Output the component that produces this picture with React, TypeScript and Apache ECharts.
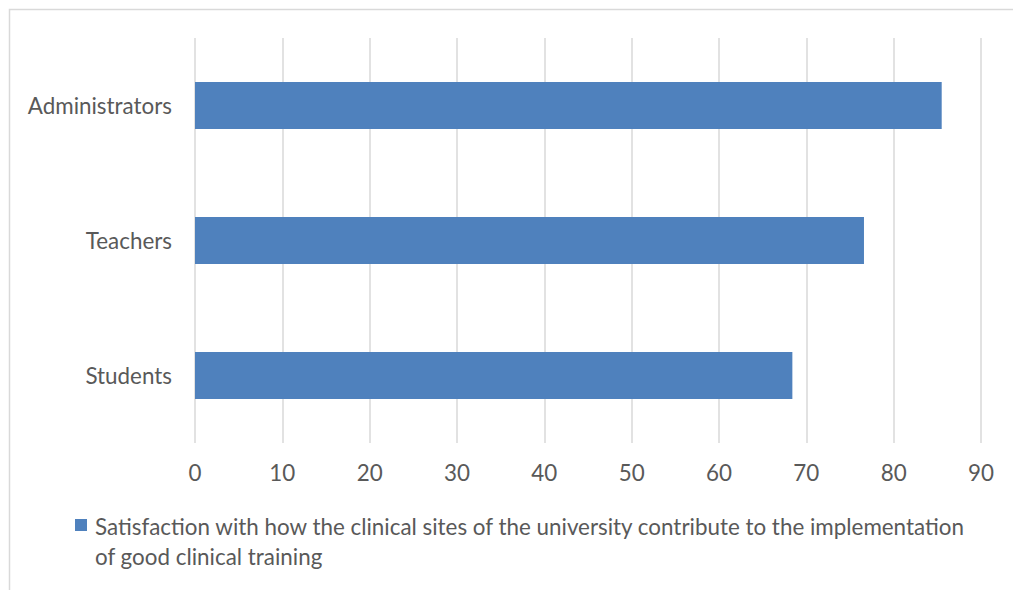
import React, { useEffect, useRef } from "react";
import * as echarts from "echarts";

// Respondent groups, listed bottom-to-top along the category axis
const categories = ["Students", "Teachers", "Administrators"];
// Satisfaction scores per group
const satisfaction = [68.4, 76.6, 85.5];
const seriesName =
  "Satisfaction with how the clinical sites of the university contribute to the implementation";
const seriesNameLine2 = "of good clinical training";

const FONT = "Lato, 'Open Sans', sans-serif";
const TEXT = "#595959";
const BAR = "#4f81bd";
const GRID = "#d9d9d9";
const SIZE = 22.4;

export default function App() {
  const ref = useRef<HTMLDivElement>(null);

  useEffect(() => {
    if (!ref.current) return;
    const chart = echarts.init(ref.current, undefined, { renderer: "svg" });
    chart.setOption({
      animation: false,
      backgroundColor: "#ffffff",
      textStyle: { fontFamily: FONT },
      grid: { left: 195, right: 32, top: 38, bottom: 147, containLabel: false },
      xAxis: {
        type: "value",
        min: 0,
        max: 90,
        interval: 10,
        axisLine: { show: false },
        axisTick: { show: false },
        splitLine: { show: true, lineStyle: { color: GRID, width: 1.5 } },
        axisLabel: { color: TEXT, fontSize: SIZE, fontFamily: FONT, margin: 18 },
      },
      yAxis: {
        type: "category",
        data: categories,
        axisLine: { show: false },
        axisTick: { show: false },
        splitLine: { show: false },
        axisLabel: { color: TEXT, fontSize: SIZE, fontFamily: FONT, margin: 23 },
      },
      series: [
        {
          name: seriesName + " " + seriesNameLine2,
          type: "bar",
          data: satisfaction,
          barWidth: 47,
          itemStyle: { color: BAR },
        },
      ],
      graphic: [
        {
          type: "rect",
          silent: true,
          shape: { x: 9.5, y: 9.5, width: 1010, height: 600 },
          style: { fill: "none", stroke: GRID, lineWidth: 1.5 },
        },
        {
          type: "rect",
          shape: { x: 75, y: 519, width: 12, height: 12 },
          style: { fill: BAR },
        },
        {
          type: "text",
          x: 95,
          y: 511,
          style: {
            text: seriesName + "\n" + seriesNameLine2,
            fill: TEXT,
            font: `${SIZE}px ${FONT}`,
            lineHeight: 30,
            verticalAlign: "top",
          },
        },
      ],
    });
    return () => chart.dispose();
  }, []);

  return (
    <div
      ref={ref}
      style={{ position: "absolute", left: 0, top: 0, width: 1013, height: 590 }}
    />
  );
}
